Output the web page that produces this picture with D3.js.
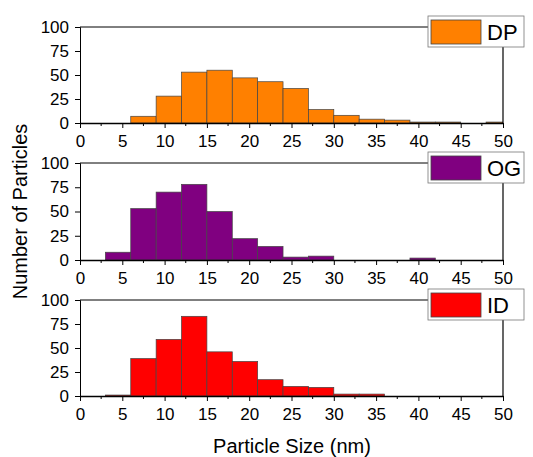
<!DOCTYPE html>
<html>
<head>
<meta charset="utf-8">
<script src="https://cdn.jsdelivr.net/npm/d3@7"></script>
<style>
  body { margin: 0; background: #fff; }
  svg { font-family: "Liberation Sans", Arial, sans-serif; }
</style>
</head>
<body>
<div id="chart"></div>
<script>
// bin left edges (3 nm wide bins)
const binStarts = [0, 3, 6, 9, 12, 15, 18, 21, 24, 27, 30, 33, 36, 39, 42, 45, 48];
const binWidth = 3;
const dpCounts = [0, 0, 7, 28, 53, 55, 47, 43, 36, 14, 8, 4, 3, 1, 1, 0, 1];
const ogCounts = [0, 8, 53, 70, 78, 50, 22, 14, 3, 4, 0, 0, 0, 2, 0, 0, 0];
const idCounts = [0, 1, 39, 59, 83, 46, 36, 17, 10, 9, 2, 2, 0, 0, 0, 0, 0];
const seriesNames = ["DP", "OG", "ID"];
const seriesColors = ["#ff8000", "#800080", "#ff0000"];
const xTicks = [0, 5, 10, 15, 20, 25, 30, 35, 40, 45, 50];
const yTicks = [0, 25, 50, 75, 100];

const width = 533, height = 457;
const left = 80, right = 503;
const panels = [
  { top: 27, bottom: 123, counts: dpCounts },
  { top: 163, bottom: 260, counts: ogCounts },
  { top: 300, bottom: 396, counts: idCounts }
];

const svg = d3.select("#chart").append("svg")
  .attr("width", width)
  .attr("height", height);

const x = d3.scaleLinear().domain([0, 50]).range([left, right]);

panels.forEach((p, i) => {
  const y = d3.scaleLinear().domain([0, 100]).range([p.bottom, p.top]);
  const g = svg.append("g");

  g.append("clipPath").attr("id", "clip" + i)
    .append("rect")
    .attr("x", left).attr("y", p.top)
    .attr("width", right - left).attr("height", p.bottom - p.top);

  // bars
  g.append("g").attr("clip-path", `url(#clip${i})`)
    .selectAll("rect")
    .data(binStarts.map((s, j) => ({ s, c: p.counts[j] })).filter(d => d.c > 0))
    .join("rect")
    .attr("x", d => x(d.s))
    .attr("width", d => x(d.s + binWidth) - x(d.s))
    .attr("y", d => y(d.c))
    .attr("height", d => y(0) - y(d.c))
    .attr("fill", seriesColors[i])
    .attr("stroke", "#444")
    .attr("stroke-width", 0.7);

  // frame: top and right lines
  g.append("line")
    .attr("x1", left).attr("x2", right)
    .attr("y1", p.top).attr("y2", p.top)
    .attr("stroke", "#000").attr("stroke-width", 1);
  g.append("line")
    .attr("x1", right).attr("x2", right)
    .attr("y1", p.top).attr("y2", p.bottom)
    .attr("stroke", "#000").attr("stroke-width", 1.2);

  // y axis
  const yAxis = g.append("g")
    .attr("transform", `translate(${left},0)`)
    .call(d3.axisLeft(y).tickValues(yTicks).tickSize(5).tickPadding(6));
  yAxis.select(".domain").attr("stroke-width", 1);
  yAxis.selectAll("text").attr("font-size", 17).attr("fill", "#000");

  // x axis minor ticks
  const minor = d3.range(2.5, 50, 5);
  g.append("g")
    .attr("transform", `translate(0,${p.bottom})`)
    .selectAll("line")
    .data(minor)
    .join("line")
    .attr("x1", d => x(d)).attr("x2", d => x(d))
    .attr("y1", 0).attr("y2", 3)
    .attr("stroke", "#000");

  const xAxis = g.append("g")
    .attr("transform", `translate(0,${p.bottom})`)
    .call(d3.axisBottom(x).tickValues(xTicks).tickSize(5).tickPadding(7).tickSizeOuter(0));
  xAxis.select(".domain").attr("stroke-width", 1.4);
  xAxis.selectAll("text").attr("font-size", 17).attr("fill", "#000");

  // legend
  const lg = g.append("g").attr("transform", `translate(428,${p.top - 11})`);
  lg.append("rect")
    .attr("x", 0).attr("y", 0)
    .attr("width", 96).attr("height", 31)
    .attr("fill", "#fff")
    .attr("stroke", "#777").attr("stroke-width", 0.8);
  lg.append("rect")
    .attr("x", 3).attr("y", 4)
    .attr("width", 50).attr("height", 24)
    .attr("fill", seriesColors[i])
    .attr("stroke", "#444").attr("stroke-width", 0.8);
  lg.append("text")
    .attr("x", 59).attr("y", 24)
    .attr("font-size", 22)
    .text(seriesNames[i]);
});

// axis titles
svg.append("text")
  .attr("transform", `translate(27,${(panels[0].top + panels[2].bottom) / 2}) rotate(-90)`)
  .attr("text-anchor", "middle")
  .attr("font-size", 20)
  .text("Number of Particles");

svg.append("text")
  .attr("x", 292)
  .attr("y", 453)
  .attr("text-anchor", "middle")
  .attr("font-size", 20)
  .text("Particle Size (nm)");
</script>
</body>
</html>
